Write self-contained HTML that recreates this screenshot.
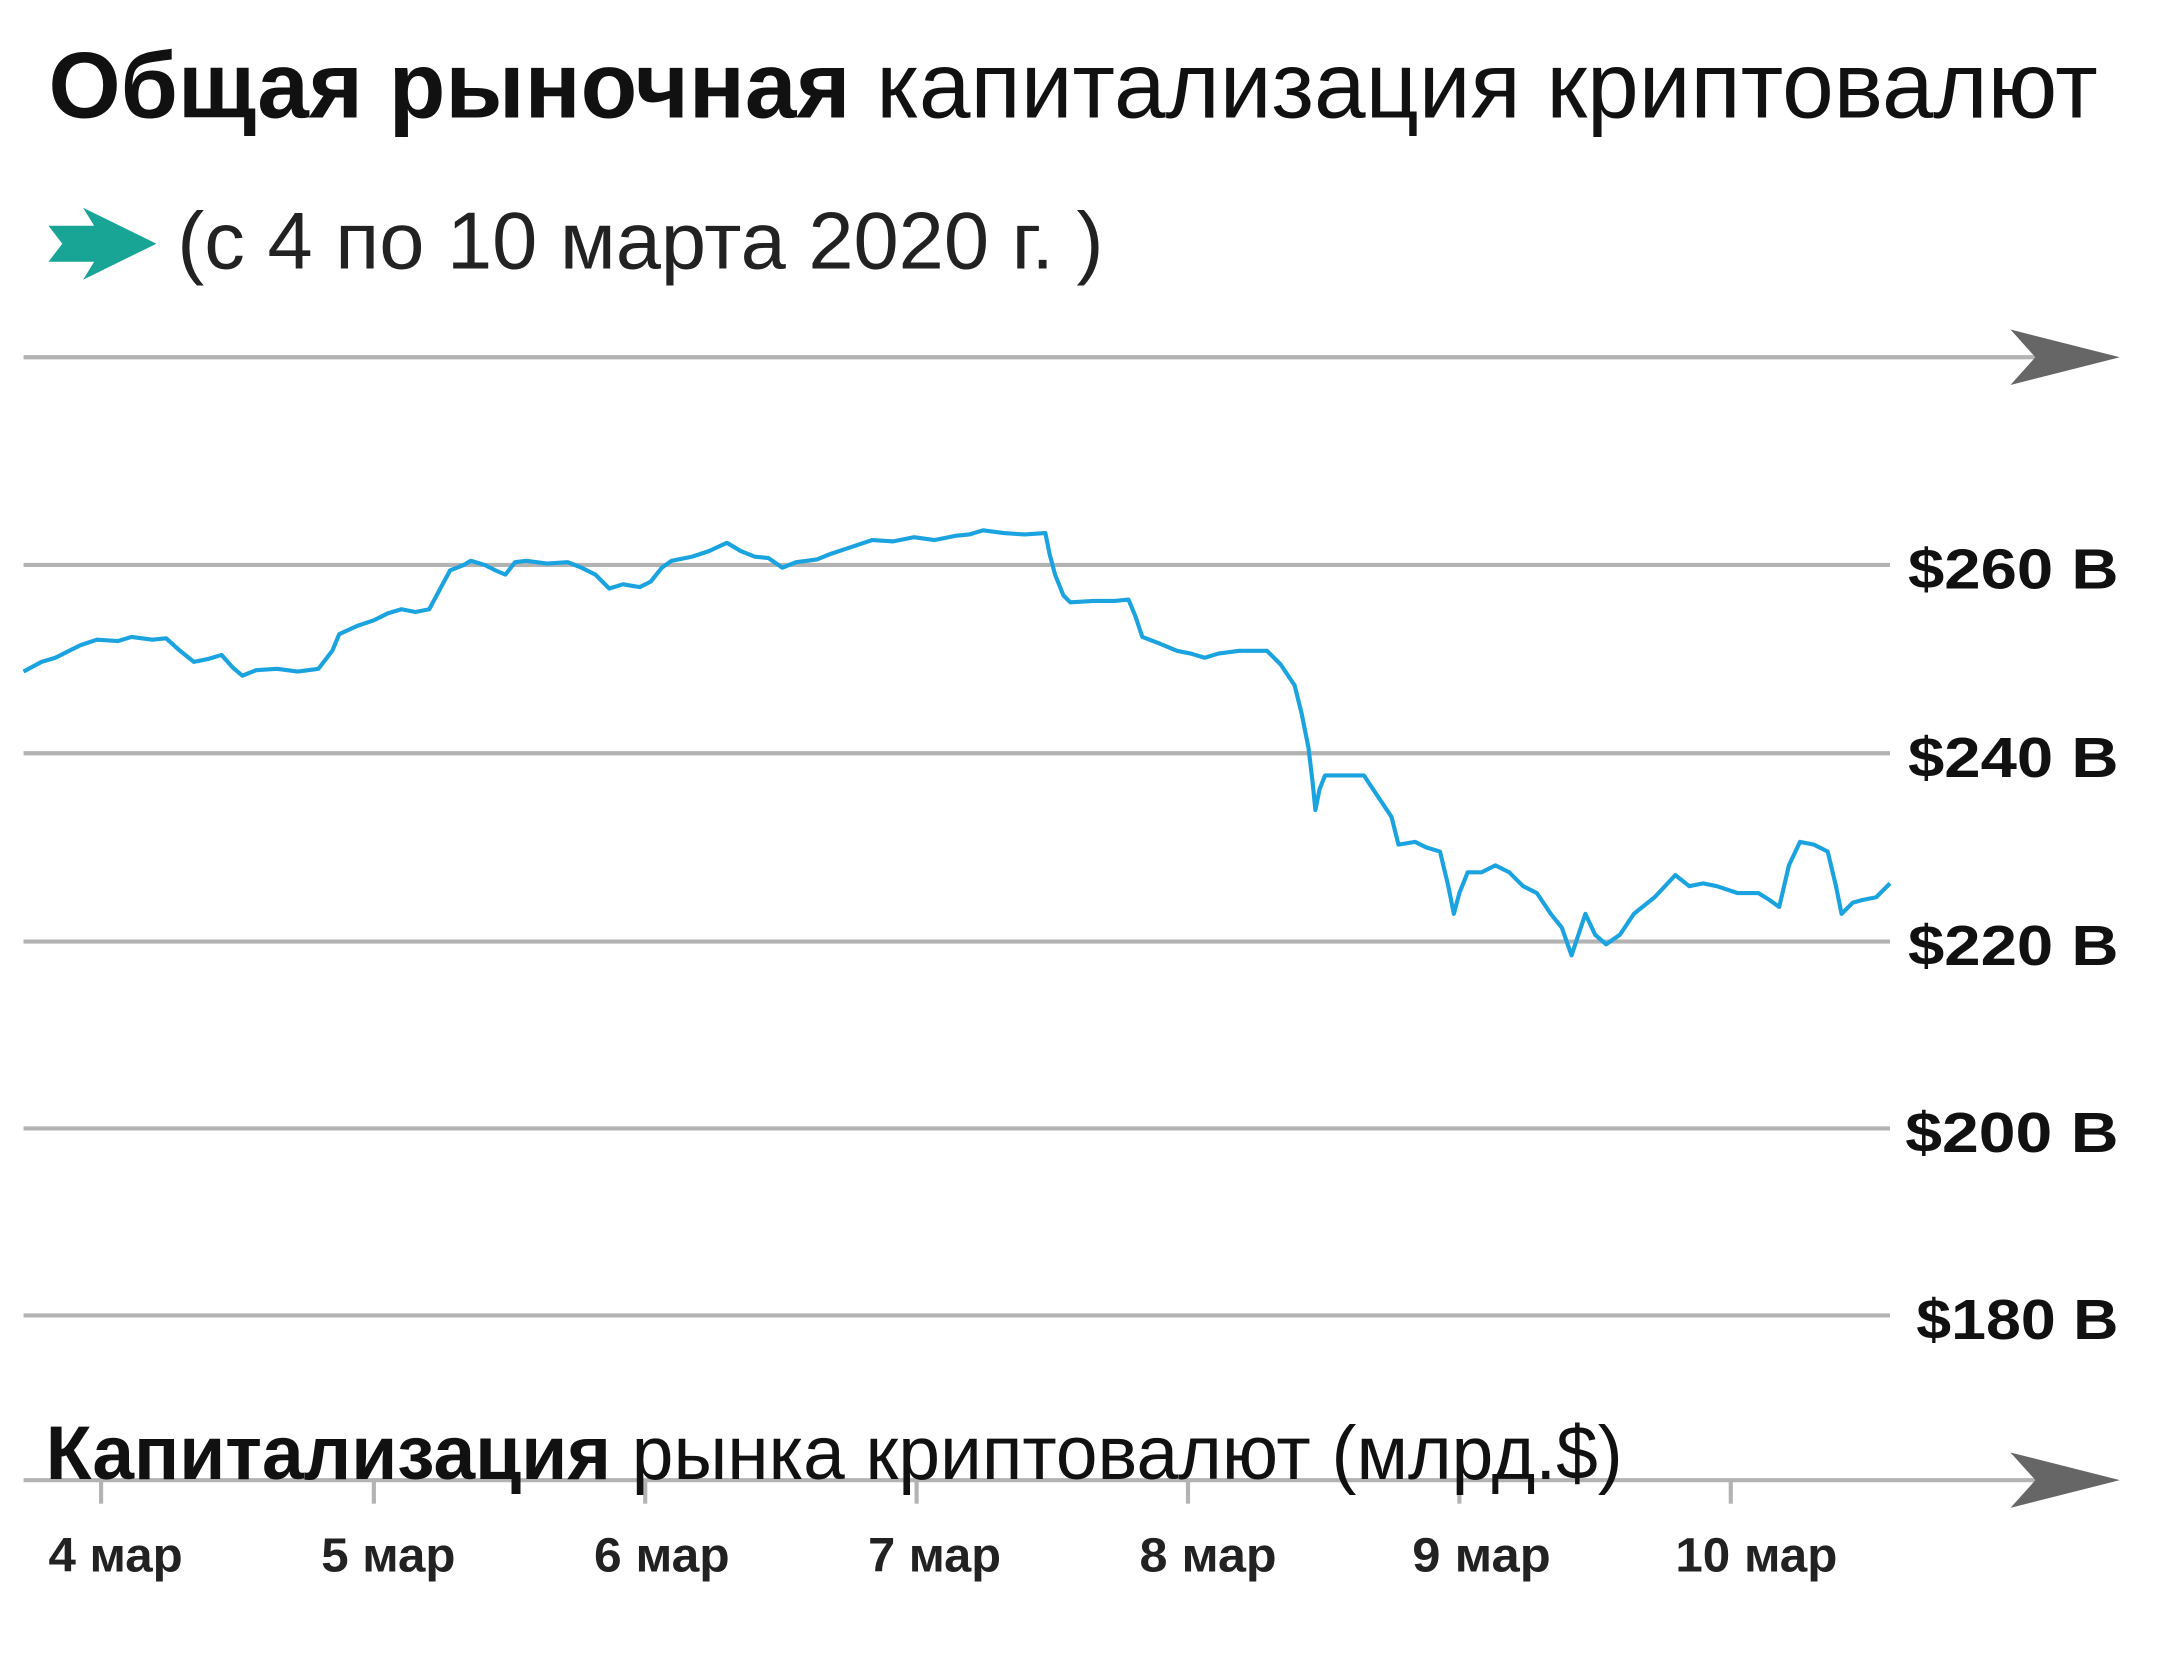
<!DOCTYPE html>
<html><head><meta charset="utf-8"><style>html,body{margin:0;padding:0;background:#fff}svg{display:block}</style></head>
<body>
<svg width="2160" height="1657" viewBox="0 0 1560 1196.7" xmlns="http://www.w3.org/2000/svg" font-family="Liberation Sans, sans-serif">
<rect width="1560" height="1197" fill="#fff"/>
<text x="35" y="85" font-size="68" textLength="1480" lengthAdjust="spacingAndGlyphs" fill="#111"><tspan font-weight="bold">Общая рыночная</tspan> капитализация криптовалют</text>
<polygon points="35,163 68,163 60,150 113,176 60,202 68,189 35,189 45,176" fill="#19a596"/>
<text x="128" y="194" font-size="58" textLength="669" lengthAdjust="spacingAndGlyphs" fill="#222">(с 4 по 10 марта 2020 г. )</text>
<g stroke="#b3b3b3" stroke-width="3">
<line x1="17" y1="258" x2="1480" y2="258"/>
<line x1="17" y1="408" x2="1365" y2="408"/>
<line x1="17" y1="544" x2="1365" y2="544"/>
<line x1="17" y1="680" x2="1365" y2="680"/>
<line x1="17" y1="815" x2="1365" y2="815"/>
<line x1="17" y1="950" x2="1365" y2="950"/>
<line x1="17" y1="1069" x2="1480" y2="1069"/>
<line x1="73" y1="1069" x2="73" y2="1086"/><line x1="270" y1="1069" x2="270" y2="1086"/><line x1="466" y1="1069" x2="466" y2="1086"/><line x1="662" y1="1069" x2="662" y2="1086"/><line x1="858" y1="1069" x2="858" y2="1086"/><line x1="1054" y1="1069" x2="1054" y2="1086"/><line x1="1250" y1="1069" x2="1250" y2="1086"/>
</g>
<polygon points="1452,238 1531,258 1452,278 1470,258" fill="#666"/>
<polygon points="1452,1049 1531,1069 1452,1089 1470,1069" fill="#666"/>
<g font-size="41" text-anchor="end" fill="#111" font-weight="bold">
<text x="1530" y="425" textLength="152" lengthAdjust="spacingAndGlyphs">$260 B</text>
<text x="1530" y="561" textLength="152" lengthAdjust="spacingAndGlyphs">$240 B</text>
<text x="1530" y="697" textLength="152" lengthAdjust="spacingAndGlyphs">$220 B</text>
<text x="1530" y="832" textLength="154" lengthAdjust="spacingAndGlyphs">$200 B</text>
<text x="1530" y="967" textLength="146" lengthAdjust="spacingAndGlyphs">$180 B</text>
</g>
<text x="33" y="1068" font-size="55" textLength="1139" lengthAdjust="spacingAndGlyphs" fill="#111"><tspan font-weight="bold">Капитализация</tspan> рынка криптовалют (млрд.$)</text>
<g font-size="35" fill="#222" font-weight="bold">
<text x="35" y="1135" textLength="97" lengthAdjust="spacingAndGlyphs">4 мар</text>
<text x="232" y="1135" textLength="97" lengthAdjust="spacingAndGlyphs">5 мар</text>
<text x="429" y="1135" textLength="98" lengthAdjust="spacingAndGlyphs">6 мар</text>
<text x="627" y="1135" textLength="96" lengthAdjust="spacingAndGlyphs">7 мар</text>
<text x="823" y="1135" textLength="99" lengthAdjust="spacingAndGlyphs">8 мар</text>
<text x="1020" y="1135" textLength="100" lengthAdjust="spacingAndGlyphs">9 мар</text>
<text x="1210" y="1135" textLength="117" lengthAdjust="spacingAndGlyphs">10 мар</text>
</g>
<polyline fill="none" stroke="#1ba3e0" stroke-width="3" stroke-linejoin="round" points="17,485 30,478 40,475 50,470 58,466 70,462 85,463 95,460 110,462 120,461 130,470 140,478 150,476 160,473 168,482 175,488 185,484 200,483 215,485 230,483 240,470 245,458 258,452 270,448 280,443 290,440 300,442 310,440 318,425 325,412 335,408 340,405 350,408 358,412 365,415 372,406 380,405 395,407 410,406 420,410 430,415 440,425 450,422 462,424 470,420 478,410 485,405 500,402 512,398 525,392 535,398 545,402 555,403 565,410 575,406 590,404 600,400 615,395 630,390 645,391 660,388 675,390 690,387 700,386 710,383 725,385 740,386 755,385 758,400 762,415 768,430 773,435 790,434 805,434 815,433 820,445 825,460 838,465 850,470 860,472 870,475 880,472 895,470 915,470 925,480 935,495 940,515 945,540 948,565 950,585 953,570 957,560 970,560 985,560 995,575 1005,590 1010,610 1022,608 1030,612 1040,615 1046,640 1050,660 1054,645 1060,630 1070,630 1080,625 1090,630 1100,640 1110,645 1120,660 1128,670 1135,690 1140,675 1145,660 1152,675 1160,682 1170,675 1180,660 1195,648 1210,632 1220,640 1230,638 1240,640 1255,645 1270,645 1278,650 1285,655 1292,625 1300,608 1310,610 1320,615 1326,640 1330,660 1338,652 1345,650 1355,648 1365,638"/>
</svg>
</body></html>
